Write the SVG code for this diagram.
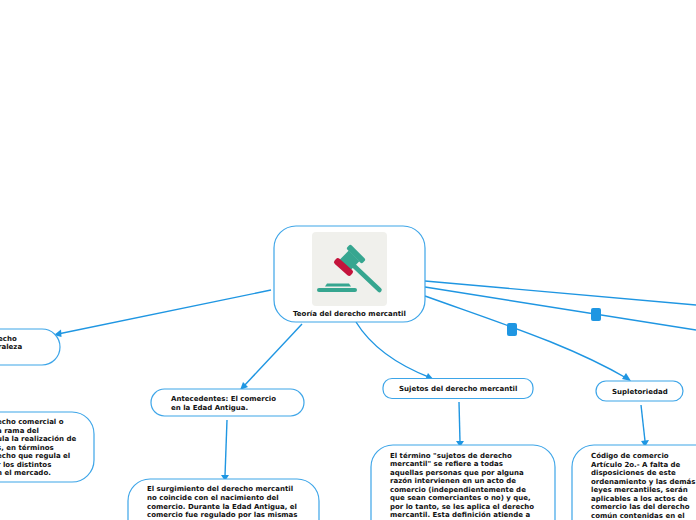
<svg xmlns="http://www.w3.org/2000/svg" width="696" height="520" viewBox="0 0 696 520">
<style>
.n{fill:#fff;stroke:#3da5e8;stroke-width:1.2}
.c{fill:none;stroke:#1f96e2;stroke-width:1.4}
.h{fill:#1f96e2}
.s{fill:#1f96e2}
text{font-family:"DejaVu Sans",Verdana,sans-serif;font-weight:700;font-size:7px;fill:#111}
</style>
<rect width="696" height="520" fill="#fff"/>
<g id="connectors">
<path class="c" d="M271 290L58 334"/><path class="h" d="M54 335L61 329.500L61.500 337Z"/>
<path class="c" d="M302 324L243 387"/><path class="h" d="M240 390L243 382L248 387Z"/>
<path class="c" d="M356 322C372 348 400 366 431 378"/><path class="h" d="M434 380L425 380L428 373Z"/>
<path class="c" d="M425 296C500 323 570 345 628 379"/><path class="h" d="M631 381L622 379L626 373Z"/>
<path class="c" d="M425 287L696 330"/>
<path class="c" d="M425 281L696 305"/>
<path class="c" d="M227 420L225 476"/><path class="h" d="M225 481L221 475L229 475Z"/>
<path class="c" d="M459 402L460 442"/><path class="h" d="M460 447L456 441L464 441Z"/>
<path class="c" d="M641 405L645 441"/><path class="h" d="M645 447L641 441L649 440Z"/>
<rect class="s" x="507" y="323" width="10" height="13" rx="2"/>
<rect class="s" x="591" y="308" width="10" height="13" rx="2"/>
</g>
<g id="root">
<rect class="n" x="274" y="226" width="151" height="96" rx="22"/>
<rect x="312" y="232" width="75" height="74" rx="4" fill="#f0f0ec"/>
<g fill="#36a690">
<rect x="317" y="288" width="40" height="4" rx="2"/>
<path d="M325 286.500L327 283.500H349L351 286.500Z"/>
<line x1="352" y1="264" x2="379.500" y2="290" stroke="#36a690" stroke-width="4.500" stroke-linecap="round"/>
<rect x="-7.500" y="-6.500" width="15" height="13" transform="translate(349.500 260.500) rotate(45)"/>
<rect x="-11" y="-3" width="22" height="6" rx="2" transform="translate(356 254) rotate(45)"/>
</g>
<rect x="-11" y="-3.500" width="22" height="7" rx="2.500" transform="translate(343.500 267) rotate(42)" fill="#c4143c"/>
<text x="293" y="316">Teoría del derecho mercantil</text>
</g>
<g id="concepto">
<rect class="n" x="-60" y="329" width="120" height="36" rx="18"/>
<text x="-2" y="341">echo</text>
<text x="-2" y="349">raleza</text>
</g>
<g id="definicion">
<rect class="n" x="-60" y="412" width="154" height="70" rx="22"/>
<text x="-3" y="424">echo comercial o</text>
<text x="-3" y="433">a rama del</text>
<text x="-3" y="441">ula la realización de</text>
<text x="-3" y="450">s, en términos</text>
<text x="-3" y="458">echo que regula el</text>
<text x="-3" y="467">r los distintos</text>
<text x="-3" y="475">n el mercado.</text>
</g>
<g id="antecedentes">
<rect class="n" x="151" y="389" width="153" height="27" rx="13.500"/>
<text x="171" y="401">Antecedentes: El comercio</text>
<text x="171" y="410">en la Edad Antigua.</text>
</g>
<g id="antecedentes-texto">
<rect class="n" x="128" y="479" width="191" height="70" rx="22"/>
<text x="147" y="491">El surgimiento del derecho mercantil</text>
<text x="147" y="500">no coincide con el nacimiento del</text>
<text x="147" y="509">comercio. Durante la Edad Antigua, el</text>
<text x="147" y="517">comercio fue regulado por las mismas</text>
</g>
<g id="sujetos">
<rect class="n" x="383" y="378.500" width="150" height="20" rx="9"/>
<text x="399" y="391">Sujetos del derecho mercantil</text>
</g>
<g id="sujetos-texto">
<rect class="n" x="371" y="445" width="184" height="100" rx="22"/>
<text x="390" y="458">El término "sujetos de derecho</text>
<text x="390" y="466">mercantil" se refiere a todas</text>
<text x="390" y="475">aquellas personas que por alguna</text>
<text x="390" y="483">razón intervienen en un acto de</text>
<text x="390" y="492">comercio (independientemente de</text>
<text x="390" y="500">que sean comerciantes o no) y que,</text>
<text x="390" y="509">por lo tanto, se les aplica el derecho</text>
<text x="390" y="517">mercantil. Esta definición atiende a</text>
</g>
<g id="supletoriedad">
<rect class="n" x="596" y="381" width="87" height="20" rx="10"/>
<text x="612" y="394">Supletoriedad</text>
</g>
<g id="supletoriedad-texto">
<rect class="n" x="572" y="445" width="160" height="100" rx="22"/>
<text x="591" y="458">Código de comercio</text>
<text x="591" y="467">Artículo 2o.- A falta de</text>
<text x="591" y="475">disposiciones de este</text>
<text x="591" y="484">ordenamiento y las demás</text>
<text x="591" y="492">leyes mercantiles, serán</text>
<text x="591" y="501">aplicables a los actos de</text>
<text x="591" y="509">comercio las del derecho</text>
<text x="591" y="518">común contenidas en el</text>
</g>
</svg>
